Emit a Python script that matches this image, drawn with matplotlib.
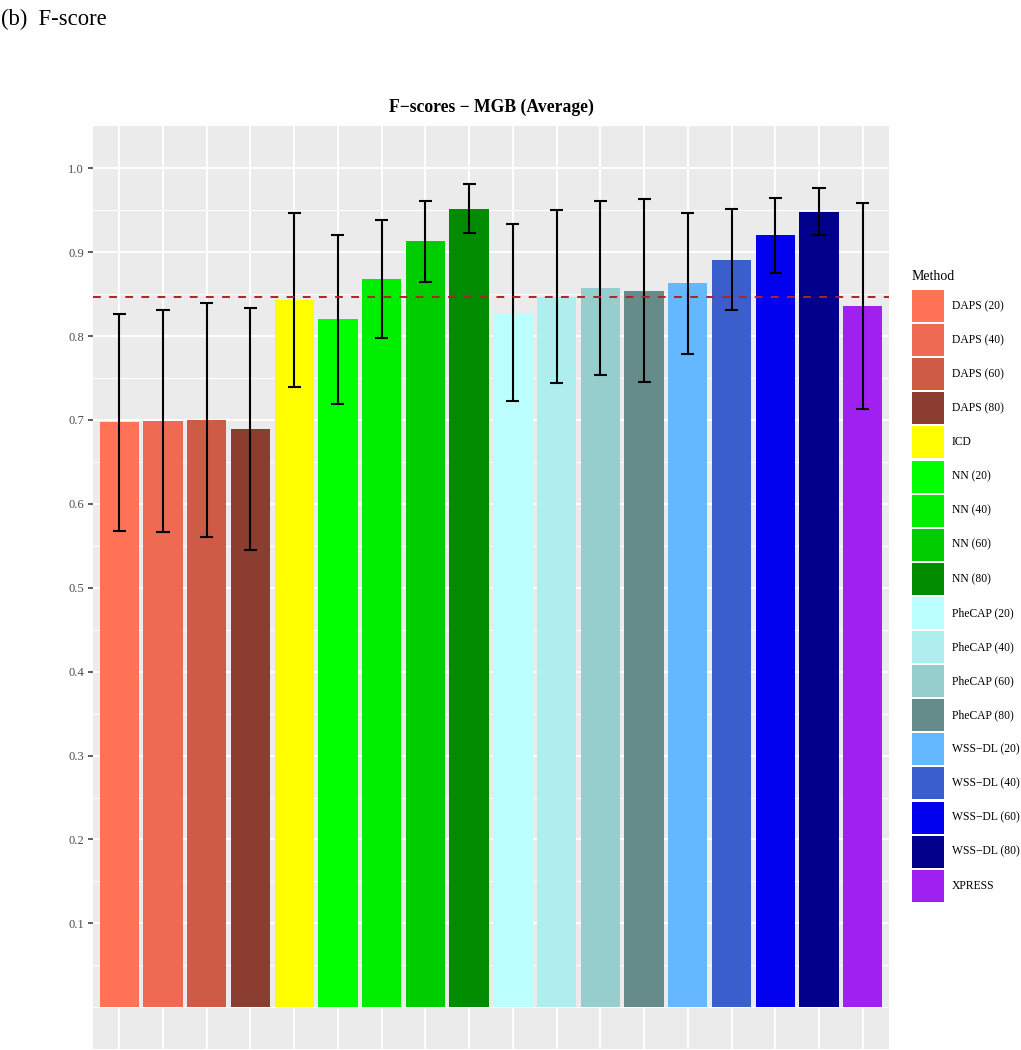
import numpy as np
import matplotlib
matplotlib.use("Agg")
import matplotlib.pyplot as plt
from matplotlib.patches import Rectangle
from matplotlib.ticker import FixedLocator

# ---------------- data ----------------
methods = ["DAPS (20)", "DAPS (40)", "DAPS (60)", "DAPS (80)", "ICD",
           "NN (20)", "NN (40)", "NN (60)", "NN (80)",
           "PheCAP (20)", "PheCAP (40)", "PheCAP (60)", "PheCAP (80)",
           "WSS\u2212DL (20)", "WSS\u2212DL (40)", "WSS\u2212DL (60)", "WSS\u2212DL (80)",
           "XPRESS"]
fscore = [0.697, 0.699, 0.700, 0.689, 0.843,
          0.820, 0.868, 0.913, 0.952,
          0.828, 0.847, 0.857, 0.854,
          0.863, 0.891, 0.920, 0.948,
          0.836]
upper = [0.826, 0.831, 0.839, 0.833, 0.947,
         0.921, 0.938, 0.961, 0.981,
         0.933, 0.950, 0.961, 0.963,
         0.947, 0.951, 0.965, 0.976,
         0.959]
lower = [0.568, 0.567, 0.561, 0.545, 0.739,
         0.719, 0.798, 0.865, 0.923,
         0.723, 0.744, 0.753, 0.745,
         0.779, 0.831, 0.875, 0.920,
         0.713]
colors = ["#FF7256", "#EE6A50", "#CD5B45", "#8B3E2F", "#FFFF00",
          "#00FF00", "#00EE00", "#00CD00", "#008B00",
          "#BBFFFF", "#AEEEEE", "#96CDCD", "#668B8B",
          "#63B8FF", "#3A5FCD", "#0000EE", "#00008B",
          "#A020F0"]
reference_line = 0.846
y_ticks = [0.1, 0.2, 0.3, 0.4, 0.5, 0.6, 0.7, 0.8, 0.9, 1.0]
y_tick_labels = ["0.1", "0.2", "0.3", "0.4", "0.5", "0.6", "0.7", "0.8", "0.9", "1.0"]
title = "F\u2212scores \u2212 MGB (Average)"
caption = "(b)  F-score"
legend_title = "Method"

# ---------------- figure ----------------
SERIF = ["Liberation Serif", "DejaVu Serif"]
W, H = 1021, 1050
fig = plt.figure(figsize=(W / 100, H / 100), dpi=100)
fig.patch.set_facecolor("white")

ax = fig.add_axes([93 / W, 1 - 1049.2 / H, 796 / W, 922.9 / H])
ax.set_facecolor("#EBEBEB")

x = np.arange(len(methods))
vals = np.array(fscore)
up = np.array(upper)
lo = np.array(lower)

ax.bar(x, vals, width=0.9, color=colors, zorder=3, linewidth=0)
ax.vlines(x, lo, up, color="black", lw=1.5, zorder=4)
ax.hlines(up, x - 0.15, x + 0.15, color="black", lw=1.5, zorder=4)
ax.hlines(lo, x - 0.15, x + 0.15, color="black", lw=1.5, zorder=4)
ax.axhline(reference_line, color="#B22222", lw=1.4, ls=(0, (4, 4.3)), zorder=5)

ax.set_xlim(-0.6, len(methods) - 0.4)
ax.set_ylim(-0.05, 1.05)

ax.set_xticks(x)
ax.set_xticklabels([])
ax.set_yticks(y_ticks)
ax.set_yticklabels(y_tick_labels, fontfamily=SERIF, fontsize=9, color="#4D4D4D")
minor = [0.0, 0.05] + [round(v + 0.05, 2) for v in y_ticks[:-1]]
ax.yaxis.set_minor_locator(FixedLocator(minor))
ax.tick_params(axis="y", which="major", length=3.6, width=1.1, color="#333333", pad=2.8)
ax.tick_params(axis="y", which="minor", length=0)
ax.tick_params(axis="x", length=0)

ax.set_axisbelow(True)
ax.grid(which="major", color="white", lw=1.4)
ax.grid(which="minor", axis="y", color="white", lw=0.7)
for s in ax.spines.values():
    s.set_visible(False)

# title and caption
fig.text(491 / W, 1 - 111.7 / H, title, ha="center", va="baseline",
         fontfamily=SERIF, fontweight="bold", fontsize=12.7)
fig.text(0.5 / W, 1 - 25 / H, caption, ha="left", va="baseline",
         fontfamily=SERIF, fontsize=16.3)

# legend (drawn in pixel coordinates of an overlay axes)
lax = fig.add_axes([0, 0, 1, 1])
lax.set_xlim(0, W)
lax.set_ylim(H, 0)
lax.axis("off")
lax.patch.set_alpha(0)
lax.text(911.5, 280, legend_title, ha="left", va="baseline",
         fontfamily=SERIF, fontsize=10)
key_top, pitch, key_w, key_h = 290.0, 34.1, 31.5, 32.0
for i, (lab, col) in enumerate(zip(methods, colors)):
    yt = key_top + i * pitch
    lax.add_patch(Rectangle((912, yt), key_w, key_h, facecolor=col, edgecolor="none"))
    lax.text(952, yt + key_h / 2, lab, ha="left", va="center",
             fontfamily=SERIF, fontsize=8.4, color="black")

fig.savefig("out.png", dpi=100)
